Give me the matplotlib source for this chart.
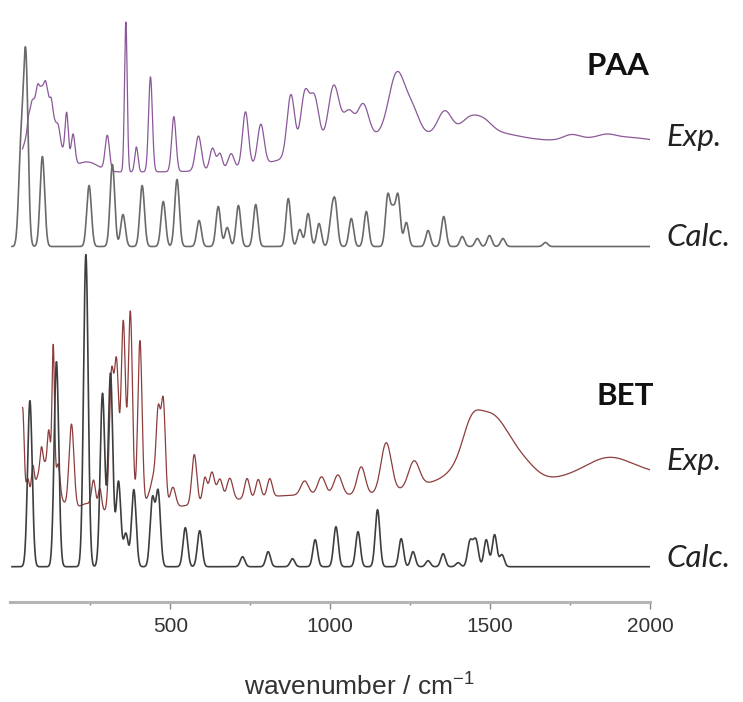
import numpy as np
import matplotlib.pyplot as plt

# Peak tables.
# centre in cm-1, height in px above the trace's own baseline, fwhm in cm-1

# PAA, calculated spectrum
paa_calc_pos = [33, 48, 100, 246, 319, 352, 412, 478, 521, 590, 650, 678, 713, 767,
                869, 905, 931, 965, 1004, 1016, 1066, 1113, 1180, 1196, 1212, 1238,
                1306, 1355, 1413, 1460, 1498, 1540, 1673]
paa_calc_int = [95, 187, 90, 61, 82, 32, 61, 45, 67, 26, 40, 19, 41, 42,
                48, 17, 33, 23, 28, 40, 28, 35, 50, 33, 50, 24,
                16, 30, 10, 8, 11, 8, 4]

# PAA, experimental spectrum (broad background bands first)
paa_exp_pos = [100, 240, 1150, 1480, 1900, 1754, 1865,
               56, 66, 85, 110, 128, 150, 176, 196,
               303, 361, 394, 438, 511, 588, 632, 655, 690, 735, 783,
               877, 920, 950, 1011, 1058, 1103, 1209, 1258, 1358, 1436, 1480]
paa_exp_int = [86, 10, 35, 22, 35, 5, 3,
               8, 12, 8, 8, 8, 10, 46, 30,
               35, 150, 25, 95, 55, 35, 22, 16, 15, 55, 40,
               62, 56, 52, 58, 28, 33, 62, 22, 22, 12, 10]
paa_exp_fwhm = [90, 80, 500, 300, 600, 60, 60,
                8, 14, 10, 10, 8, 12, 12, 14,
                16, 10, 12, 14, 16, 22, 20, 18, 22, 22, 24,
                28, 30, 34, 40, 40, 40, 60, 50, 50, 60, 60]

# BET, calculated spectrum
bet_calc_pos = [61, 144, 236, 288, 313, 338, 361, 386, 444, 462, 547, 592, 726, 806,
                882, 953, 1018, 1087, 1148, 1222, 1259, 1306, 1353, 1400, 1436, 1447,
                1457, 1488, 1514, 1537]
bet_calc_int = [166, 205, 312, 173, 193, 85, 33, 77, 67, 74, 39, 36, 10, 15,
                8, 27, 40, 35, 57, 28, 15, 6, 13, 4, 22, 12,
                22, 27, 32, 12]

# BET, experimental spectrum (broad background bands first)
bet_exp_pos = [950, 240, 110, 1500, 1920, 1340, 1615, 1870, 1440,
               38, 54, 70, 97, 120, 134, 150, 191, 260, 280,
               316, 332, 353, 375, 405, 435, 447, 462, 478, 508,
               575, 608, 630, 655, 686, 740, 775, 811, 920, 973, 1024, 1097, 1175, 1262]
bet_exp_int = [25, 12, 55, 75, 50, 15, 8, 12, 20,
               105, 25, 25, 20, 35, 130, 25, 85, 25, 20,
               135, 145, 190, 200, 170, 15, 20, 95, 105, 20,
               50, 25, 30, 22, 22, 20, 18, 18, 14, 18, 20, 28, 50, 26]
bet_exp_fwhm = [900, 80, 80, 160, 680, 250, 90, 150, 60,
                12, 12, 10, 10, 10, 9, 12, 18, 14, 12,
                16, 16, 16, 16, 16, 25, 16, 16, 16, 20,
                18, 16, 20, 20, 22, 18, 18, 18, 28, 28, 30, 30, 38, 40]

CALC_FWHM = 17


def spectrum(wn, pos, ints, fwhm):
    """Sum of gaussian bands"""
    pos = np.asarray(pos, float)[:, None]
    ints = np.asarray(ints, float)[:, None]
    sig = np.asarray(fwhm, float)[:, None] / 2.3548
    return (ints * np.exp(-0.5 * ((wn[None, :] - pos) / sig) ** 2)).sum(axis=0)


# vertical stacking of the traces (axis units = pixels above the x axis)
offsets = {'paa_exp': 429.7, 'paa_calc': 355.2, 'bet_exp': 81.7, 'bet_calc': 35.0}

W, H = 743, 702
fig = plt.figure(figsize=(W / 100, H / 100), dpi=100)
ax = fig.add_axes([10.4 / W, 1 - 601.7 / H, (650 - 10.4) / W, 601.7 / H])

wn_calc = np.linspace(5, 2000, 4000)
wn_exp = np.linspace(38, 2000, 4000)

ax.plot(wn_exp, offsets['paa_exp'] + spectrum(wn_exp, paa_exp_pos, paa_exp_int, paa_exp_fwhm),
        color='#8a5898', lw=0.9)
ax.plot(wn_calc, offsets['paa_calc'] + spectrum(wn_calc, paa_calc_pos, paa_calc_int,
                                                [CALC_FWHM] * len(paa_calc_pos)),
        color='#6a6a6a', lw=1.2)
ax.plot(wn_exp, offsets['bet_exp'] + spectrum(wn_exp, bet_exp_pos, bet_exp_int, bet_exp_fwhm),
        color='#8e3c3c', lw=0.9)
ax.plot(wn_calc, offsets['bet_calc'] + spectrum(wn_calc, bet_calc_pos, bet_calc_int,
                                                [CALC_FWHM] * len(bet_calc_pos)),
        color='#3e3e3e', lw=1.2)

ax.set_xlim(0, 2000)
ax.set_ylim(0, 601.7)
for side in ['top', 'left', 'right']:
    ax.spines[side].set_visible(False)
ax.spines['bottom'].set_color('#b4b4b4')
ax.spines['bottom'].set_linewidth(2.2)
ax.set_yticks([])
ax.set_xticks([500, 1000, 1500, 2000])
ax.set_xticks([250, 750, 1250, 1750], minor=True)
ax.tick_params(axis='x', which='major', length=5, width=1, color='#888888',
               labelsize=15, labelcolor='#333333', pad=6)
ax.tick_params(axis='x', which='minor', length=2.5, width=1, color='#888888')
for lab in ax.get_xticklabels():
    lab.set_family('Liberation Sans')

plt.rcParams['mathtext.default'] = 'regular'
ax.set_xlabel('wavenumber / cm$^{-1}$', fontsize=19, color='#333333',
              family='Liberation Sans', va='center')
ax.xaxis.set_label_coords((359 - 10.4) / (650 - 10.4), (601.7 - 687) / 601.7)

labels = [('PAA', 586.7, 75, 'bold', 'normal'),
          ('Exp.', 666, 146, 'normal', 'italic'),
          ('Calc.', 666, 246.5, 'normal', 'italic'),
          ('BET', 596.7, 405, 'bold', 'normal'),
          ('Exp.', 666.7, 470, 'normal', 'italic'),
          ('Calc.', 666.7, 566.7, 'normal', 'italic')]
for txt, px, py, wt, st in labels:
    fig.text(px / W, 1 - py / H, txt, fontsize=22.5, family='Lato', weight=wt,
             style=st, color='#111111' if wt == 'bold' else '#222222',
             ha='left', va='baseline')

fig.savefig('out.png', dpi=100)
